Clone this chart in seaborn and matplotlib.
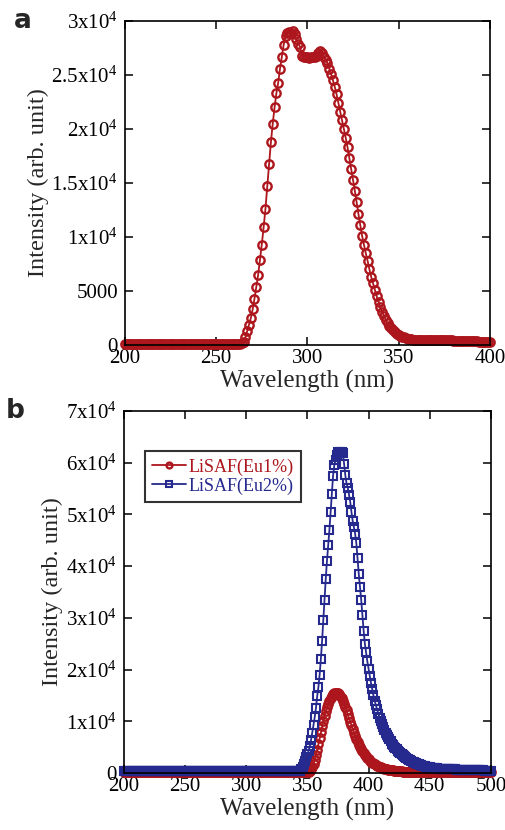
import numpy as np
import pandas as pd
import seaborn as sns
import matplotlib.pyplot as plt


# Excitation spectrum (panel a), 1 nm steps 200-400 nm
wl_a = list(range(200, 401))
exc = [
    # 200-264 baseline
    60, 60, 60, 60, 60, 60, 60, 60, 60, 60, 60, 60, 60, 60, 60, 60, 60, 60, 60, 60,
    60, 60, 60, 60, 60, 60, 60, 60, 60, 60, 60, 60, 60, 60, 60, 60, 60, 60, 60, 60,
    60, 60, 60, 60, 60, 60, 60, 60, 60, 60, 60, 60, 60, 60, 60, 60, 60, 60, 60, 60,
    60, 70, 80, 100, 150,
    # 265-299
    300, 700, 1300, 1900, 2500, 3300, 4300, 5400, 6500, 7900,
    9300, 10900, 12600, 14700, 16800, 18800, 20500, 22000, 23300, 24300,
    25600, 26700, 27800, 28600, 28900, 29000, 28900, 29100, 28800, 28300,
    27900, 27600, 26800, 26700, 26700,
    # 300-349
    26700, 26600, 26700, 26700, 26700, 26800, 27000, 27200, 27000, 26700,
    26400, 26100, 25600, 25100, 24500, 23900, 23200, 22400, 21600, 20800,
    20000, 19200, 18300, 17300, 16300, 15300, 14300, 13200, 12100, 11100,
    10100, 9300, 8500, 7800, 7000, 6300, 5700, 5100, 4500, 4000,
    3500, 3100, 2700, 2300, 2000, 1800, 1600, 1400, 1200, 1050,
    # 350-400
    950, 850, 780, 700, 650, 600, 560, 530, 510, 500,
    490, 480, 475, 470, 470, 465, 460, 460, 455, 450,
    450, 445, 440, 440, 435, 430, 430, 425, 420, 420,
    415, 410, 405, 400, 395, 390, 380, 370, 360, 350,
    345, 340, 335, 330, 325, 320, 315, 310, 305, 300,
    300,
]

# Emission spectra (panel b), 1 nm steps 200-500 nm
wl_b = list(range(200, 501))
eu2 = [
    # 200-343 baseline
    300, 300, 300, 300, 300, 300, 300, 300, 300, 300, 300, 300, 300, 300, 300, 300,
    300, 300, 300, 300, 300, 300, 300, 300, 300, 300, 300, 300, 300, 300, 300, 300,
    300, 300, 300, 300, 300, 300, 300, 300, 300, 300, 300, 300, 300, 300, 300, 300,
    300, 300, 300, 300, 300, 300, 300, 300, 300, 300, 300, 300, 300, 300, 300, 300,
    300, 300, 300, 300, 300, 300, 300, 300, 300, 300, 300, 300, 300, 300, 300, 300,
    300, 300, 300, 300, 300, 300, 300, 300, 300, 300, 300, 300, 300, 300, 300, 300,
    300, 300, 300, 300, 300, 300, 300, 300, 300, 300, 300, 300, 300, 300, 300, 300,
    300, 300, 300, 300, 300, 300, 300, 300, 300, 300, 300, 300, 300, 300, 300, 300,
    300, 300, 300, 300, 300, 300, 300, 300, 300, 300, 300, 300, 300, 300, 300, 300,
    # 344-399
    400, 700, 1200, 1800, 2400, 3000, 3600, 4300, 5200, 6400,
    7800, 9300, 10800, 12600, 14800, 16600, 19000, 22000, 25500, 29500,
    33500, 37500, 41000, 44000, 47000, 50500, 54000, 57500, 59500, 60500,
    61500, 62000, 61800, 62000, 62100, 61800, 59800, 57600, 56000, 55200,
    53800, 52500, 50500, 48800, 47500, 46300, 44500, 41500, 38500, 36000,
    33500, 30500, 27500, 25000, 23300, 21600,
    # 400-450
    20200, 18800, 17400, 16200, 15000, 14000, 13100, 12300, 11500, 10700,
    10000, 9400, 8800, 8300, 7800, 7300, 6900, 6500, 6100, 5700,
    5400, 5100, 4800, 4600, 4300, 4100, 3900, 3700, 3500, 3300,
    3100, 2900, 2750, 2600, 2450, 2300, 2150, 2050, 1950, 1850,
    1750, 1650, 1550, 1480, 1410, 1350, 1290, 1230, 1180, 1130,
    1080,
    # 451-500
    1040, 1000, 970, 940, 910, 880, 860, 840, 820, 800,
    780, 770, 760, 750, 740, 730, 720, 710, 700, 690,
    680, 670, 660, 650, 640, 630, 620, 610, 600, 590,
    580, 570, 560, 550, 540, 530, 520, 510, 500, 500,
    490, 490, 480, 480, 470, 470, 460, 460, 450, 450,
]
eu1 = [
    # 200-350 baseline
    100, 100, 100, 100, 100, 100, 100, 100, 100, 100, 100, 100, 100, 100, 100, 100,
    100, 100, 100, 100, 100, 100, 100, 100, 100, 100, 100, 100, 100, 100, 100, 100,
    100, 100, 100, 100, 100, 100, 100, 100, 100, 100, 100, 100, 100, 100, 100, 100,
    100, 100, 100, 100, 100, 100, 100, 100, 100, 100, 100, 100, 100, 100, 100, 100,
    100, 100, 100, 100, 100, 100, 100, 100, 100, 100, 100, 100, 100, 100, 100, 100,
    100, 100, 100, 100, 100, 100, 100, 100, 100, 100, 100, 100, 100, 100, 100, 100,
    100, 100, 100, 100, 100, 100, 100, 100, 100, 100, 100, 100, 100, 100, 100, 100,
    100, 100, 100, 100, 100, 100, 100, 100, 100, 100, 100, 100, 100, 100, 100, 100,
    100, 100, 100, 100, 100, 100, 100, 100, 100, 100, 100, 100, 100, 100, 100, 100,
    100, 100, 100, 100, 100, 100, 100,
    # 351-400
    200, 400, 700, 1100, 1700, 2500, 3400, 4500, 5600, 6800,
    7900, 9000, 10000, 11000, 11900, 12700, 13400, 14000, 14500, 14900,
    15200, 15400, 15500, 15500, 15400, 15200, 14900, 14500, 14000, 13400,
    12800, 12100, 11400, 10600, 9900, 9200, 8500, 7800, 7200, 6600,
    6000, 5500, 5000, 4600, 4200, 3800, 3500, 3200, 2900, 2650,
    # 401-450
    2400, 2200, 2000, 1850, 1700, 1550, 1420, 1300, 1200, 1100,
    1010, 930, 860, 790, 730, 670, 620, 570, 530, 490,
    450, 420, 390, 360, 340, 320, 300, 280, 260, 250,
    240, 230, 220, 210, 200, 190, 180, 170, 160, 150,
    150, 145, 140, 140, 135, 130, 130, 125, 120, 120,
    # 451-500
    120, 120, 115, 115, 115, 110, 110, 110, 110, 110,
    105, 105, 105, 105, 105, 100, 100, 100, 100, 100,
    100, 100, 100, 100, 100, 100, 100, 100, 100, 100,
    100, 100, 100, 100, 100, 100, 100, 100, 100, 100,
    100, 100, 100, 100, 100, 100, 100, 100, 100, 100,
]

yticks_a = [0, 5000, 10000, 15000, 20000, 25000, 30000]
ylabels_a = ['0', '5000', '1x10$^4$', '1.5x10$^4$', '2x10$^4$', '2.5x10$^4$', '3x10$^4$']
xticks_a = [200, 250, 300, 350, 400]
yticks_b = [0, 10000, 20000, 30000, 40000, 50000, 60000, 70000]
ylabels_b = ['0'] + ['%dx10$^4$' % i for i in range(1, 8)]
xticks_b = [200, 250, 300, 350, 400, 450, 500]

labels_b = ['LiSAF(Eu1%)', 'LiSAF(Eu2%)']
red = '#ac161c'
blue = '#262a8e'

sns.set_style('ticks')
plt.rcParams['font.family'] = ['Liberation Serif', 'DejaVu Serif']
plt.rcParams['mathtext.fontset'] = 'custom'
plt.rcParams['mathtext.rm'] = 'Liberation Serif'
plt.rcParams['mathtext.default'] = 'regular'

fig = plt.figure(figsize=(5.06, 8.30), dpi=100)
ax_a = fig.add_axes([0.247, 0.5843, 0.721, 0.3904])
ax_b = fig.add_axes([0.245, 0.0687, 0.725, 0.4361])


def style_axes(ax, xticks, yticks, ylabels, xlim, ylim):
    ax.set_xlim(*xlim)
    ax.set_ylim(*ylim)
    ax.set_xticks(xticks)
    ax.set_yticks(yticks)
    ax.set_yticklabels(ylabels)
    ax.tick_params(direction='in', top=True, right=True, length=6, width=1.1,
                   labelsize=15, colors='black')
    ax.tick_params(axis='x', pad=3)
    ax.tick_params(axis='y', pad=5)
    for s in ax.spines.values():
        s.set_linewidth(1.2)
        s.set_color('black')
    ax.set_xlabel('Wavelength (nm)', fontsize=18, labelpad=1)
    ax.set_ylabel('Intensity (arb. unit)', fontsize=17.5, labelpad=2)


# Panel a
df_a = pd.DataFrame({'wl': wl_a, 'I': exc})
sns.lineplot(data=df_a, x='wl', y='I', ax=ax_a, color=red, linewidth=1.3,
             marker='o', markersize=6, markerfacecolor='none',
             markeredgecolor=red, markeredgewidth=1.7, clip_on=False)
style_axes(ax_a, xticks_a, yticks_a, ylabels_a, (200, 400), (0, 30000))

# Panel b
df_b = pd.DataFrame({'wl': wl_b, labels_b[0]: eu1, labels_b[1]: eu2})
sns.lineplot(data=df_b, x='wl', y=labels_b[0], ax=ax_b, color=red, linewidth=1.3,
             marker='o', markersize=6, markerfacecolor='none',
             markeredgecolor=red, markeredgewidth=1.7, label=labels_b[0], clip_on=False)
sns.lineplot(data=df_b, x='wl', y=labels_b[1], ax=ax_b, color=blue, linewidth=1.3,
             marker='s', markersize=5.5, markerfacecolor='none',
             markeredgecolor=blue, markeredgewidth=1.5, label=labels_b[1], clip_on=False)
style_axes(ax_b, xticks_b, yticks_b, ylabels_b, (200, 500), (0, 70000))

leg = ax_b.legend(loc='upper left', bbox_to_anchor=(0.057, 0.889), borderaxespad=0,
                  fontsize=13, handlelength=1.9, handletextpad=0.1, labelspacing=0.1,
                  fancybox=False, frameon=True, borderpad=0.4, markerscale=0.7)
leg.get_frame().set_edgecolor('black')
leg.get_frame().set_linewidth(1.5)
for txt, c in zip(leg.get_texts(), [red, blue]):
    txt.set_color(c)

fig.text(0.045, 0.975, 'a', fontsize=19, fontweight='bold', family='DejaVu Sans',
         ha='center', va='center')
fig.text(0.03, 0.505, 'b', fontsize=19, fontweight='bold', family='DejaVu Sans',
         ha='center', va='center')

fig.savefig('out.png', dpi=100)
